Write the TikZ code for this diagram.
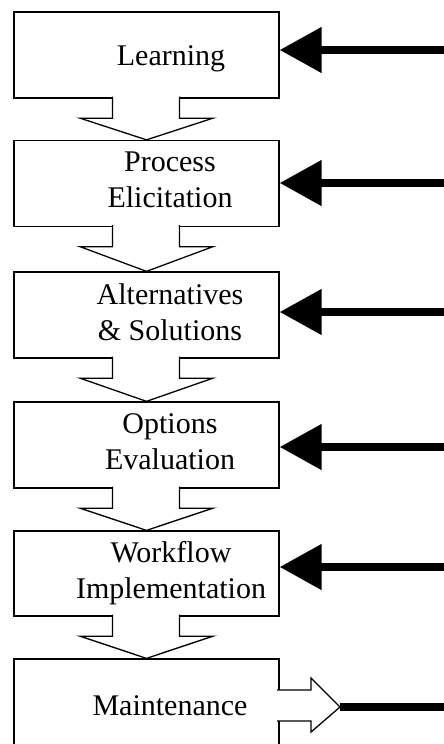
\documentclass[tikz,border=0pt]{standalone}
\usepackage{fontspec}
\setmainfont{Liberation Serif}
\usetikzlibrary{arrows.meta,calc}

\begin{document}
\begin{tikzpicture}[x=1pt,y=-1pt,line width=1.3pt,
  stage/.style={draw,rectangle,minimum width=265pt,minimum height=86pt,inner sep=0pt},
  stagetext/.style={anchor=north,inner sep=0pt,align=center,font=\fontsize{30}{36}\selectfont},
  feed/.style={line width=8pt,-{Triangle[length=42pt,width=44pt]}},
  blockarrow/.style={draw,fill=white}]

\clip (0,0) rectangle (444,744);

% Stage boxes
\node[stage] (learn) at (146.5,55) {};
\node[stage] (elicit) at (146.5,183.5) {};
\node[stage] (altern) at (146.5,315) {};
\node[stage] (evalopt) at (146.5,445) {};
\node[stage,minimum height=85pt] (implem) at (146.5,573.5) {};
\node[stage,minimum height=110pt] (maint) at (146.5,714) {};

% Stage texts
\node[stagetext] (learn-t) at (171,45) {Learning};
\node[stagetext] (elicit-t) at (170,151) {Process\\Elicitation};
\node[stagetext] (altern-t) at (170,283) {Alternatives\\\& Solutions};
\node[stagetext] (evalopt-t) at (170,413) {Options\\Evaluation};
\node[stagetext] (implem-t) at (171,541) {Workflow\\Implementation};
\node[stagetext] (maint-t) at (170,695) {Maintenance};

% Block arrows between stages
\foreach \a/\b in {learn/elicit,elicit/altern,altern/evalopt,evalopt/implem,implem/maint}
  \filldraw[blockarrow] ($(\a.south)+(-34,-2)$) -- ($(\a.south)+(-34,19.5)$)
    -- ($(\a.south)+(-66.5,19.5)$) -- (\b.north) -- ($(\a.south)+(66.5,19.5)$)
    -- ($(\a.south)+(33,19.5)$) -- ($(\a.south)+(33,-2)$);

% Inputs from the right
\coordinate (f1) at (444,50);
\coordinate (f2) at (444,183);
\coordinate (f3) at (444,312);
\coordinate (f4) at (444,447);
\coordinate (f5) at (444,567);
\draw[feed] (f1) -- (f1 -| learn.east);
\draw[feed] (f2) -- (f2 -| elicit.east);
\draw[feed] (f3) -- (f3 -| altern.east);
\draw[feed] (f4) -- (f4 -| evalopt.east);
\draw[feed] (f5) -- (f5 -| implem.east);

% Output of maintenance
\coordinate (out) at (340,707);
\coordinate (out-end) at (444,707);
\filldraw[blockarrow] (277,690) -- (311,690) -- (311,678) -- (out) -- (311,732)
  -- (311,721) -- (277,721);
\draw[line width=7.5pt] (out) -- (out-end);

\end{tikzpicture}
\end{document}
